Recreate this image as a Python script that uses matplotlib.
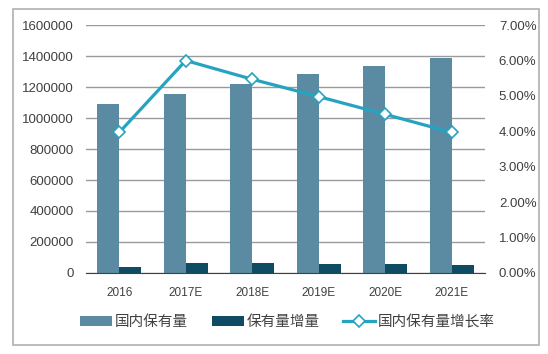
import numpy as np
import matplotlib
matplotlib.use("Agg")
import matplotlib.pyplot as plt
from matplotlib.patches import Rectangle
from matplotlib.ticker import FuncFormatter

plt.rcParams['font.family'] = ['Liberation Sans', 'Noto Sans CJK SC', 'DejaVu Sans']

years = ["2016", "2017E", "2018E", "2019E", "2020E", "2021E"]
stock = [1090000, 1153000, 1217000, 1282000, 1337000, 1389000]
stock_inc = [37000, 66000, 62000, 58000, 57000, 50000]
growth = [3.97, 6.0, 5.47, 4.98, 4.48, 3.97]

c_stock = "#5a8ba3"
c_inc = "#0f4c63"
c_line = "#27a3c2"
c_text = "#404040"

fig = plt.figure(figsize=(5.48, 3.54), dpi=100)
ax = fig.add_axes([0.157, 0.229, 0.728, 0.700])
ax2 = ax.twinx()

x = np.arange(len(years))
w = 0.33
ax.bar(x - w / 2, stock, w, color=c_stock, label="国内保有量", zorder=2)
ax.bar(x + w / 2, stock_inc, w, color=c_inc, label="保有量增量", zorder=2)
ax2.plot(x, growth, color=c_line, lw=2.3, marker="D", ms=6.5,
         mfc="white", mec=c_line, mew=1.2, label="国内保有量增长率", zorder=3)

ax.set_xlim(-0.5, len(years) - 0.5)
ax.set_ylim(0, 1600000)
ax.set_yticks(np.arange(0, 1600001, 200000))
ax.yaxis.set_major_formatter(FuncFormatter(lambda v, p: f"{int(v)}"))
ax2.set_ylim(0, 7)
ax2.set_yticks(np.arange(0, 7.01, 1))
ax2.yaxis.set_major_formatter(FuncFormatter(lambda v, p: f"{v:.2f}%"))

ax.grid(axis="y", color="#9a9a9a", lw=1, zorder=0)
ax.set_axisbelow(True)
for a in (ax, ax2):
    for s in a.spines.values():
        s.set_visible(False)
    a.tick_params(length=0, colors=c_text, labelsize=9.5)
ax.spines["bottom"].set_visible(True)
ax.spines["bottom"].set_color("#404040")
ax.set_xticks(x)
ax.set_xticklabels(years, fontsize=8.5)
ax.tick_params(axis="x", pad=10)
ax.tick_params(axis="y", pad=9)
ax2.tick_params(axis="y", pad=10)

h1, l1 = ax.get_legend_handles_labels()
h2, l2 = ax2.get_legend_handles_labels()
fig.legend(h1 + h2, l1 + l2, loc="center", bbox_to_anchor=(0.525, 0.09), ncol=3,
           frameon=False, fontsize=10.5, handlelength=2.2, handletextpad=0.2,
           columnspacing=1.6, labelcolor=c_text)

fig.patches.append(Rectangle((13 / 548, 1 - 345 / 354), 526 / 548, 336 / 354,
                             transform=fig.transFigure, fill=False,
                             ec="#b0b0b0", lw=1.2))

fig.savefig("out.png", dpi=100)
